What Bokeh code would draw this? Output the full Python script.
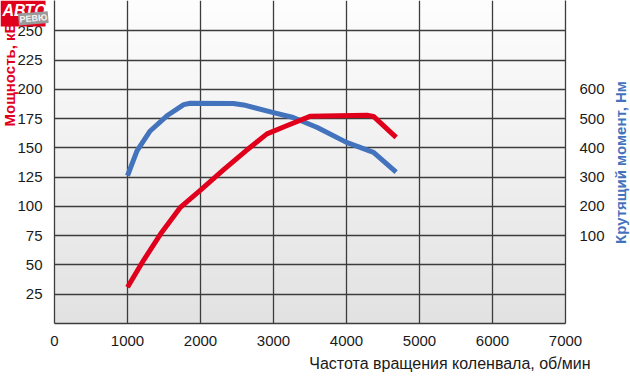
import numpy as np
from math import pi
from bokeh.plotting import figure
from bokeh.layouts import row
from bokeh.models import (Range1d, LinearAxis, FixedTicker, Label, LinearColorMapper,
                          BoxAnnotation, Title)
from bokeh.embed import file_html
from bokeh.resources import INLINE

# ---- data ----
power_rpm = [1000, 1220, 1470, 1720, 2000, 2310, 2630, 2910, 3180, 3500, 4280, 4370, 4680]
power_kw = [31, 54, 78, 99, 114, 131, 148, 162, 169, 177, 178, 177, 159]

torque_rpm = [1000, 1130, 1310, 1540, 1770, 1860, 2450, 2590, 3000, 3270, 3600, 4000, 4370, 4680]
torque_nm = [305, 390, 458, 510, 548, 553, 552, 547, 521, 504, 470, 419, 385, 317]

x_ticks = [0, 1000, 2000, 3000, 4000, 5000, 6000, 7000]
kw_ticks = [25, 50, 75, 100, 125, 150, 175, 200, 225, 250]
nm_ticks = [100, 200, 300, 400, 500, 600]

x_title = "Частота вращения коленвала, об/мин"
left_title = "Мощность, кВт"
right_title = "Крутящий момент, Нм"
logo_main = "АВТО"
logo_sub = "РЕВЮ"

RED = "#e1001c"
BLUE = "#4473bd"
GRID = "#3c3c3c"
FONT = "Liberation Sans"
W, H = 630, 378
BOTTOM = 55
FH = H - BOTTOM  # frame height

KW_MAX = 276.0
p = figure(width=W, height=H, output_backend="svg", toolbar_location=None,
           x_range=Range1d(0, 7000), y_range=Range1d(0, KW_MAX),
           min_border_left=54, min_border_right=65, min_border_top=0,
           min_border_bottom=BOTTOM)
p.outline_line_color = None
p.background_fill_color = "white"
p.border_fill_color = "white"

# torque scale: Nm = 4*kW - 200
p.extra_y_ranges = {"nm": Range1d(4 * 0 - 200, 4 * KW_MAX - 200)}

# soft vertical gradient background
shades = []
for t in np.linspace(0, 1, 256):
    v = int(round(0xe2 + (0xfd - 0xe2) * t))
    shades.append("#%02x%02x%02x" % (v, v, v))
grad = np.linspace(0, 1, 64).reshape(64, 1)
p.image(image=[grad], x=0, y=0, dw=7000, dh=KW_MAX,
        color_mapper=LinearColorMapper(palette=shades, low=0, high=1), level="image")

p.xaxis.ticker = FixedTicker(ticks=x_ticks)
p.yaxis.ticker = FixedTicker(ticks=kw_ticks)
for ax in (p.xaxis[0], p.yaxis[0]):
    ax.major_tick_line_color = None
    ax.minor_tick_line_color = None
    ax.axis_line_color = GRID
    ax.axis_line_width = 1.3
    ax.major_label_text_font = FONT
    ax.major_label_text_font_size = "15px"
    ax.major_label_text_color = "#1a1a1a"
p.xaxis.major_label_standoff = 6
p.yaxis.major_label_standoff = 6

rax = LinearAxis(y_range_name="nm", ticker=FixedTicker(ticks=nm_ticks))
rax.major_tick_line_color = None
rax.minor_tick_line_color = None
rax.axis_line_color = GRID
rax.axis_line_width = 1.3
rax.major_label_text_font = FONT
rax.major_label_text_font_size = "15px"
rax.major_label_text_color = "#1a1a1a"
rax.major_label_standoff = 8
p.add_layout(rax, "right")

p.xgrid.grid_line_color = GRID
p.xgrid.grid_line_width = 1.3
p.ygrid.grid_line_color = GRID
p.ygrid.grid_line_width = 1.3
p.xgrid.level = "underlay"
p.ygrid.level = "underlay"

p.line(torque_rpm, torque_nm, y_range_name="nm", line_color=BLUE, line_width=5,
       line_join="round")
p.line(power_rpm, power_kw, line_color=RED, line_width=5, line_join="round")

p.add_layout(Title(text=x_title, align="right", offset=-25, standoff=9, text_font=FONT,
                   text_font_size="16px", text_font_style="normal", text_color="#1a1a1a"),
             "below")

# transparent overlay carrying the side titles and the logo
ov = figure(width=W, height=H, output_backend="svg", toolbar_location=None,
            x_range=Range1d(0, W), y_range=Range1d(0, FH),
            min_border_left=0, min_border_right=0, min_border_top=0,
            min_border_bottom=BOTTOM, x_axis_type=None, y_axis_type=None)
ov.outline_line_color = None
ov.background_fill_color = None
ov.border_fill_color = None
ov.grid.visible = False

ov.add_layout(Label(x=9, y=FH - 126, x_units="screen", y_units="screen", text=left_title,
                    angle=pi / 2, text_align="left", text_baseline="middle", text_font=FONT,
                    text_font_size="15px", text_font_style="bold", text_color=RED))
ov.add_layout(Label(x=620, y=FH - 162, x_units="screen", y_units="screen", text=right_title,
                    angle=pi / 2, text_align="center", text_baseline="middle", text_font=FONT,
                    text_font_size="15px", text_font_style="bold", text_color=BLUE))

ov.add_layout(BoxAnnotation(left=0, right=45, top=FH, bottom=FH - 26,
                            left_units="screen", right_units="screen",
                            top_units="screen", bottom_units="screen",
                            fill_color=RED, fill_alpha=1.0, line_color=None))
ov.add_layout(Label(x=2, y=FH - 10, x_units="screen", y_units="screen", text=logo_main,
                    text_align="left", text_baseline="middle", text_font=FONT,
                    text_font_size="16px", text_font_style="bold italic",
                    text_color="white"))
ov.add_layout(Label(x=18, y=FH - 19, x_units="screen", y_units="screen", text=logo_sub,
                    angle=0.08, text_align="left", text_baseline="middle", text_font=FONT,
                    text_font_size="9px", text_font_style="bold", text_color="#f4f4f4",
                    background_fill_color="#9a9a9a", padding=1))
ov.styles = {"position": "absolute", "left": "0px", "top": "0px", "z-index": "10"}

layout = row(p, ov)
open("out.html", "w").write(file_html(layout, INLINE))
